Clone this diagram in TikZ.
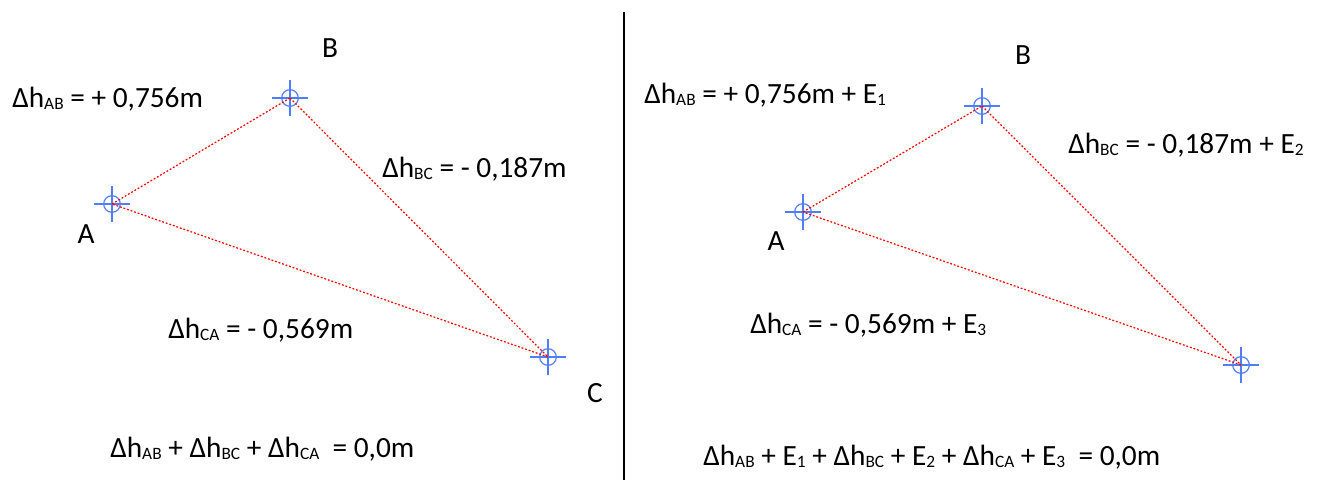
\documentclass[tikz,border=0pt]{standalone}
\usepackage{fontspec}
\setmainfont{Carlito}
\newcommand\sbs[1]{\raisebox{-0.1em}{\fontsize{13}{13}\selectfont #1}}
\definecolor{markblue}{RGB}{80,125,250}
\tikzset{
  eq/.style={anchor=base west, inner sep=0pt, font=\fontsize{22}{24}\selectfont},
  ptlabel/.style={anchor=base, inner sep=0pt, font=\fontsize{22}{24}\selectfont},
  target/.style={circle, draw=markblue, line width=0.9pt, minimum size=12.5pt, inner sep=0pt},
  crossl/.style={draw=markblue, line width=0.9pt},
  redline/.style={draw=red, line width=0.9pt, dash pattern=on 1.4pt off 1.4pt},
  divider/.style={draw=black, line width=1.5pt}
}
\begin{document}
\begin{tikzpicture}[x=0.75pt, y=-0.75pt]
\useasboundingbox (0,0) rectangle (1322,480);
% left panel
\node[target] (lA) at (112,204) {};
\node[target] (lB) at (290,98) {};
\node[target] (lC) at (548,357) {};
\foreach \n in {lA,lB,lC}{
  \draw[crossl] ([xshift=-13.5pt]\n.center) -- ([xshift=13.5pt]\n.center);
  \draw[crossl] ([yshift=-13.5pt]\n.center) -- ([yshift=13.5pt]\n.center);
}
\draw[redline] (lA.center) -- (lB.center);
\draw[redline] (lB.center) -- (lC.center);
\draw[redline] (lC.center) -- (lA.center);
\node[ptlabel] (tlB) at (330,57) {B};
\node[ptlabel] (tlA) at (86,243) {A};
\node[ptlabel] (tlC) at (595,402) {C};
\node[eq] (lab) at (12,107) {Δh\sbs{AB} = + 0,756m};
\node[eq] (lbc) at (382,177) {Δh\sbs{BC} = - 0,187m};
\node[eq] (lca) at (168,338) {Δh\sbs{CA} = - 0,569m};
\node[eq] (lsum) at (110,457) {Δh\sbs{AB} + Δh\sbs{BC} + Δh\sbs{CA}\ \ = 0,0m};
% divider
\coordinate (dtop) at (624,12);
\coordinate (dbot) at (624,480);
\draw[divider] (dtop) -- (dbot);
% right panel
\node[target] (rA) at (803,212) {};
\node[target] (rB) at (982,106) {};
\node[target] (rC) at (1241,365) {};
\foreach \n in {rA,rB,rC}{
  \draw[crossl] ([xshift=-13.5pt]\n.center) -- ([xshift=13.5pt]\n.center);
  \draw[crossl] ([yshift=-13.5pt]\n.center) -- ([yshift=13.5pt]\n.center);
}
\draw[redline] (rA.center) -- (rB.center);
\draw[redline] (rB.center) -- (rC.center);
\draw[redline] (rC.center) -- (rA.center);
\node[ptlabel] (trB) at (1023,64) {B};
\node[ptlabel] (trA) at (776,250) {A};
\node[eq] (rab) at (644,103) {Δh\sbs{AB} = + 0,756m + E\sbs{1}};
\node[eq] (rbc) at (1068,153) {Δh\sbs{BC} = - 0,187m + E\sbs{2}};
\node[eq] (rca) at (750,333) {Δh\sbs{CA} = - 0,569m + E\sbs{3}};
\node[eq] (rsum) at (703,465) {Δh\sbs{AB} + E\sbs{1} + Δh\sbs{BC} + E\sbs{2} + Δh\sbs{CA} + E\sbs{3}\ \ = 0,0m};
\end{tikzpicture}
\end{document}
